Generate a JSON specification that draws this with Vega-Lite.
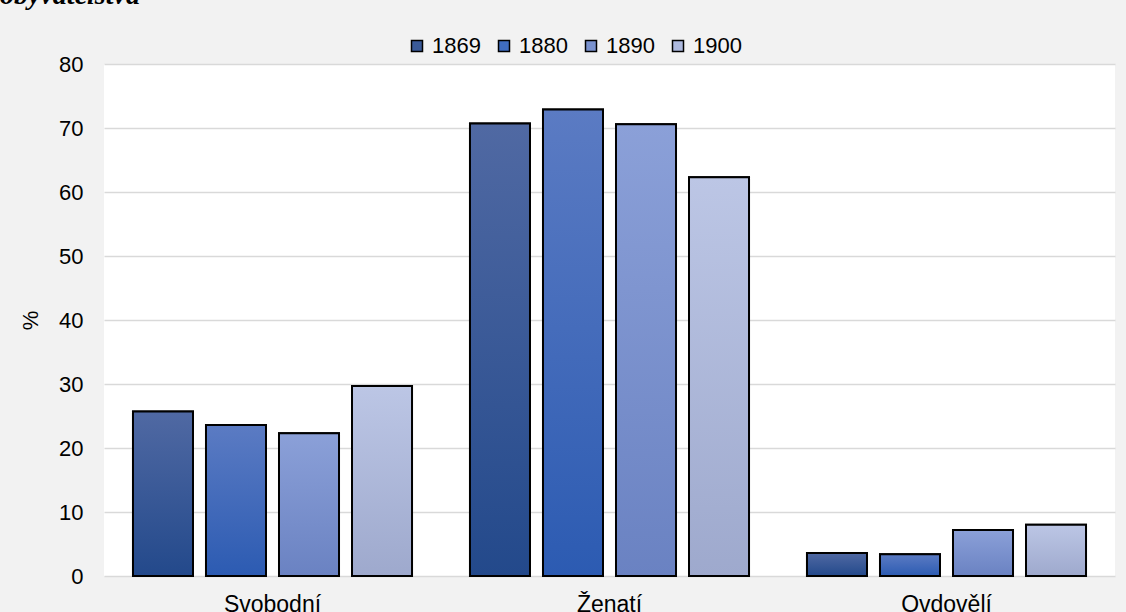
{
  "$schema": "https://vega.github.io/schema/vega-lite/v6.json",
  "width": 1011,
  "height": 512,
  "autosize": {"type": "none"},
  "padding": {"left": 104, "top": 64, "right": 11, "bottom": 36},
  "background": "#f2f2f2",
  "title": {
    "text": "obyvatelstva",
    "anchor": "start",
    "frame": "group",
    "font": "Liberation Serif",
    "fontSize": 28,
    "fontWeight": "bold",
    "fontStyle": "italic",
    "color": "#000000",
    "baseline": "alphabetic",
    "dx": -104,
    "offset": 3
  },
  "config": {
    "view": {"fill": "#ffffff", "stroke": null},
    "font": "Liberation Sans"
  },
  "data": {
    "values": [
      {"stav": "Svobodní", "rok": "1869", "hodnota": 25.7},
      {"stav": "Svobodní", "rok": "1880", "hodnota": 23.6},
      {"stav": "Svobodní", "rok": "1890", "hodnota": 22.3},
      {"stav": "Svobodní", "rok": "1900", "hodnota": 29.7},
      {"stav": "Ženatí", "rok": "1869", "hodnota": 70.7},
      {"stav": "Ženatí", "rok": "1880", "hodnota": 72.9},
      {"stav": "Ženatí", "rok": "1890", "hodnota": 70.6},
      {"stav": "Ženatí", "rok": "1900", "hodnota": 62.3},
      {"stav": "Ovdovělí", "rok": "1869", "hodnota": 3.6},
      {"stav": "Ovdovělí", "rok": "1880", "hodnota": 3.4},
      {"stav": "Ovdovělí", "rok": "1890", "hodnota": 7.2},
      {"stav": "Ovdovělí", "rok": "1900", "hodnota": 8.0}
    ]
  },
  "encoding": {
    "x": {
      "field": "stav",
      "type": "nominal",
      "sort": ["Svobodní", "Ženatí", "Ovdovělí"],
      "scale": {"paddingInner": 0, "paddingOuter": 0},
      "axis": {
        "title": null,
        "labelAngle": 0,
        "domain": false,
        "ticks": false,
        "labelFont": "Liberation Sans",
        "labelFontSize": 23,
        "labelColor": "#000000",
        "labelPadding": 17
      }
    },
    "xOffset": {
      "field": "rok",
      "type": "nominal",
      "scale": {"paddingInner": 0.178, "paddingOuter": 0.397}
    },
    "y": {
      "field": "hodnota",
      "type": "quantitative",
      "scale": {"domain": [0, 80]},
      "axis": {
        "title": "%",
        "titleFont": "Liberation Sans",
        "titleFontSize": 22,
        "titleFontWeight": "normal",
        "titleColor": "#000000",
        "titlePadding": 16,
        "values": [0, 10, 20, 30, 40, 50, 60, 70, 80],
        "labelFont": "Liberation Sans",
        "labelFontSize": 22,
        "labelColor": "#000000",
        "labelPadding": 21,
        "domain": false,
        "ticks": false,
        "gridColor": "#d9d9d9",
        "gridWidth": 1.5
      }
    }
  },
  "layer": [
    {
      "mark": {"type": "bar", "stroke": "#000000", "strokeWidth": 2},
      "encoding": {
        "color": {
          "field": "rok",
          "type": "nominal",
          "scale": {"range": ["#3a5a98", "#3f6cc0", "#7a92cf", "#adb9de"]},
          "legend": {
            "title": null,
            "orient": "none",
            "direction": "horizontal",
            "legendX": 302,
            "legendY": -29,
            "symbolType": "square",
            "symbolSize": 121,
            "symbolStrokeColor": "#000000",
            "symbolStrokeWidth": 1.5,
            "symbolOpacity": 1,
            "labelFont": "Liberation Sans",
            "labelFontSize": 22,
            "labelColor": "#000000",
            "labelOffset": 4,
            "columnPadding": 12
          }
        }
      }
    },
    {
      "transform": [{"filter": "datum.rok === '1869'"}],
      "mark": {"type": "bar", "stroke": "#000000", "strokeWidth": 2,
        "fill": {"gradient": "linear", "x1": 0, "y1": 0, "x2": 0, "y2": 1,
          "stops": [{"offset": 0, "color": "#5069a3"}, {"offset": 1, "color": "#23498b"}]}}
    },
    {
      "transform": [{"filter": "datum.rok === '1880'"}],
      "mark": {"type": "bar", "stroke": "#000000", "strokeWidth": 2,
        "fill": {"gradient": "linear", "x1": 0, "y1": 0, "x2": 0, "y2": 1,
          "stops": [{"offset": 0, "color": "#5b7bc3"}, {"offset": 1, "color": "#2c5bb2"}]}}
    },
    {
      "transform": [{"filter": "datum.rok === '1890'"}],
      "mark": {"type": "bar", "stroke": "#000000", "strokeWidth": 2,
        "fill": {"gradient": "linear", "x1": 0, "y1": 0, "x2": 0, "y2": 1,
          "stops": [{"offset": 0, "color": "#8ba0d8"}, {"offset": 1, "color": "#6a82c2"}]}}
    },
    {
      "transform": [{"filter": "datum.rok === '1900'"}],
      "mark": {"type": "bar", "stroke": "#000000", "strokeWidth": 2,
        "fill": {"gradient": "linear", "x1": 0, "y1": 0, "x2": 0, "y2": 1,
          "stops": [{"offset": 0, "color": "#bcc6e5"}, {"offset": 1, "color": "#9ea9cd"}]}}
    }
  ]
}
